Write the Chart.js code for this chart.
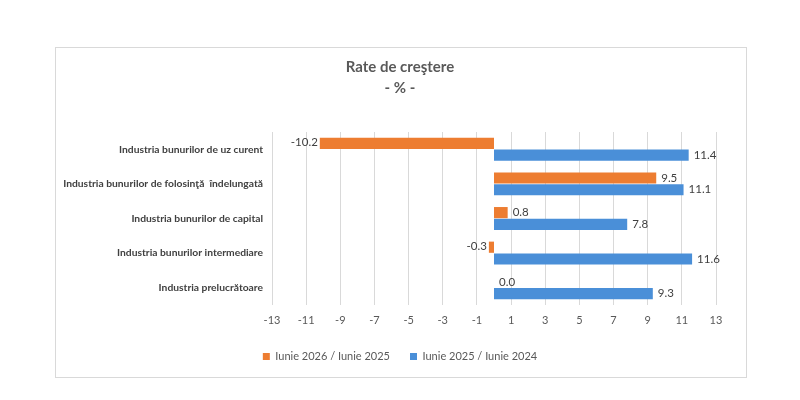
<!DOCTYPE html>
<html>
<head>
<meta charset="utf-8">
<script src="https://cdn.jsdelivr.net/npm/chart.js@4"></script>
<style>
    body { margin: 0; background: #ffffff; }
    #wrap { width: 800px; height: 400px; }
</style>
</head>
<body>
<div id="wrap"><canvas id="graph" width="800" height="400"></canvas></div>
<script>
const categories = [
    'Industria bunurilor de uz curent',
    'Industria bunurilor de folosinţă  îndelungată',
    'Industria bunurilor de capital',
    'Industria bunurilor intermediare',
    'Industria prelucrătoare'
];
const series_2026 = [-10.2, 9.5, 0.8, -0.3, 0.0];
const series_2025 = [11.4, 11.1, 7.8, 11.6, 9.3];
const series_names = ['Iunie 2026 / Iunie 2025', 'Iunie 2025 / Iunie 2024'];
const x_min = -13;
const x_max = 13;
const x_step = 2;

Chart.defaults.font.family = "Lato, 'Open Sans', sans-serif";
Chart.defaults.color = '#595959';

// frame round the chart, like the excel chart border
const frame_plugin = {
    id: 'frame',
    beforeDraw(chart) {
        const ctx = chart.ctx;
        ctx.save();
        ctx.strokeStyle = '#d9d9d9';
        ctx.lineWidth = 1;
        ctx.strokeRect(55.5, 47.5, 691, 330);
        ctx.restore();
    }
};

// value labels at the end of each bar
const value_labels = {
    id: 'valueLabels',
    afterDatasetsDraw(chart) {
        const ctx = chart.ctx;
        ctx.save();
        ctx.font = "11.5px Lato, 'Open Sans', sans-serif";
        ctx.fillStyle = '#404040';
        ctx.textBaseline = 'middle';
        chart.data.datasets.forEach((ds, i) => {
            chart.getDatasetMeta(i).data.forEach((bar, j) => {
                let v = ds.data[j];
                let text = v.toFixed(1);
                if (v < 0) {
                    ctx.textAlign = 'right';
                    ctx.fillText(text, bar.x - 2, bar.y - 1);
                } else {
                    ctx.textAlign = 'left';
                    ctx.fillText(text, bar.x + 5, bar.y);
                }
            });
        });
        ctx.restore();
    }
};

const data = {
    labels: categories,
    datasets: [
        {
            label: series_names[0],
            data: series_2026,
            backgroundColor: '#ED7D31',
            borderColor: '#ED7D31'
        },
        {
            label: series_names[1],
            data: series_2025,
            backgroundColor: '#4A8FD8',
            borderColor: '#4A8FD8'
        }
    ]
};

const config = {
    type: 'bar',
    data,
    plugins: [frame_plugin, value_labels],
    options: {
        indexAxis: 'y',
        responsive: false,
        animation: false,
        categoryPercentage: 0.68,
        barPercentage: 0.95,
        layout: {
            padding: { left: 84, right: 84, top: 0, bottom: 28 }
        },
        plugins: {
            title: {
                display: true,
                text: 'Rate de creştere',
                color: '#595959',
                font: { size: 15, weight: 'bold' },
                padding: { top: 58, bottom: 3 }
            },
            subtitle: {
                display: true,
                text: '- % -',
                color: '#595959',
                font: { size: 15, weight: 'bold' },
                padding: { top: 0, bottom: 35 }
            },
            legend: {
                position: 'bottom',
                labels: {
                    boxWidth: 7,
                    boxHeight: 7,
                    color: '#595959',
                    font: { size: 11 },
                    padding: 20
                }
            },
            tooltip: { enabled: false }
        },
        scales: {
            x: {
                type: 'linear',
                min: x_min,
                max: x_max,
                afterFit(scale) {
                    scale.height = 26;
                },
                ticks: {
                    stepSize: x_step,
                    color: '#595959',
                    font: { size: 11 },
                    padding: 9
                },
                grid: {
                    color: '#d9d9d9',
                    drawTicks: false
                },
                border: { display: false }
            },
            y: {
                afterFit(scale) {
                    scale.width = 188;
                },
                afterUpdate(scale) {
                    // the long labels run past the left padding, so do not clip them to the axis box
                    scale._computeLabelArea = () => undefined;
                },
                ticks: {
                    color: '#404040',
                    font: { size: 10.3, weight: 'bold' },
                    padding: 1
                },
                grid: { display: false },
                border: { display: false }
            }
        }
    }
};

new Chart(document.getElementById('graph'), config);
</script>
</body>
</html>
